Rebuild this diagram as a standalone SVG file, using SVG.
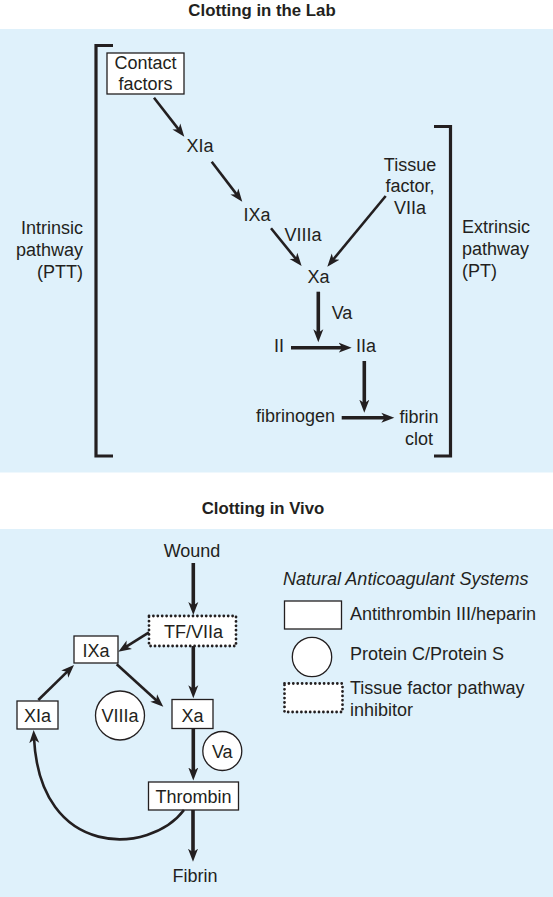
<svg xmlns="http://www.w3.org/2000/svg" width="553" height="897" viewBox="0 0 553 897">
<style>
text{font-family:"Liberation Sans",Arial,sans-serif;font-size:18px;fill:#231f20}
.t{font-weight:bold;font-size:16.8px}
.c{text-anchor:middle}
.r{text-anchor:end}
.bg{fill:#dff1fb}
.box{fill:#fff;stroke:#231f20;stroke-width:1.3}
.dot{fill:#fff;stroke:#231f20;stroke-width:2.8;stroke-dasharray:0 4.4;stroke-linecap:round}
.br{fill:none;stroke:#231f20;stroke-width:3.2}
.a{fill:none;stroke:#231f20;stroke-width:2.6;marker-end:url(#ah)}
.A{fill:none;stroke:#231f20;stroke-width:3.6;marker-end:url(#ah)}
</style>
<defs>
<marker id="ah" markerUnits="userSpaceOnUse" markerWidth="14" markerHeight="12" refX="5" refY="5" orient="auto" viewBox="0 0 14 10">
<path d="M0,0 L13,5 L0,10 L3.5,5 z" fill="#231f20"/>
</marker>
</defs>
<rect width="553" height="897" fill="#fff"/>
<rect class="bg" x="0" y="29" width="553" height="443.5"/>
<rect class="bg" x="0" y="529" width="553" height="368"/>
<text class="t c" x="262" y="15.5">Clotting in the Lab</text>
<text class="t c" x="263" y="513.5">Clotting in Vivo</text>

<g id="brackets">
<path class="br" d="M113,45.5 H96 V456 H113"/>
<path class="br" d="M434,126.5 H450.5 V456 H434"/>
</g>
<g id="intrinsic"><text class="r" x="83" y="234">Intrinsic</text><text class="r" x="83" y="256">pathway</text><text class="r" x="83" y="278">(PTT)</text></g>
<g id="extrinsic"><text x="462" y="233">Extrinsic</text><text x="462" y="255">pathway</text><text x="462" y="277">(PT)</text></g>
<g id="contact"><rect class="box" x="107" y="53" width="77" height="41"/><text class="c" x="145.5" y="69">Contact</text><text class="c" x="145.5" y="90">factors</text></g>
<g id="xia-top"><text class="c" x="200" y="152">XIa</text></g>
<g id="ixa-top"><text class="c" x="257" y="221">IXa</text></g>
<g id="viiia-top"><text class="c" x="303" y="241">VIIIa</text></g>
<g id="tissue"><text class="c" x="410" y="171">Tissue</text><text class="c" x="410" y="192">factor,</text><text class="c" x="410" y="214">VIIa</text></g>
<g id="xa-top"><text class="c" x="318.5" y="283">Xa</text></g>
<g id="va-top"><text class="c" x="342" y="319">Va</text></g>
<g id="ii"><text class="c" x="279" y="352">II</text></g>
<g id="iia"><text x="356" y="352">IIa</text></g>
<g id="fibrinogen"><text x="256" y="422">fibrinogen</text></g>
<g id="fibrinclot"><text class="c" x="419" y="423">fibrin</text><text class="c" x="419" y="445">clot</text></g>

<g id="wound"><text class="c" x="192" y="557">Wound</text></g>
<g id="tf"><rect class="dot" x="149" y="616" width="87" height="30"/><text class="c" x="193.5" y="637.5">TF/VIIa</text></g>
<g id="ixa"><rect class="box" x="74" y="636" width="44" height="27"/><text class="c" x="96" y="657">IXa</text></g>
<g id="xia"><rect class="box" x="17" y="701" width="41" height="28"/><text class="c" x="37.5" y="722">XIa</text></g>
<g id="viiia"><circle class="box" cx="120" cy="715.5" r="24.5"/><text class="c" x="120" y="722">VIIIa</text></g>
<g id="xa"><rect class="box" x="172" y="699.5" width="41" height="29"/><text class="c" x="192.5" y="721.5">Xa</text></g>
<g id="va"><circle class="box" cx="222.3" cy="751" r="19.5"/><text class="c" x="222.3" y="757.5">Va</text></g>
<g id="thrombin"><rect class="box" x="148.5" y="782" width="90" height="28"/><text class="c" x="193.5" y="803">Thrombin</text></g>
<g id="fibrin"><text class="c" x="195" y="882">Fibrin</text></g>

<g id="legend">
<text x="283" y="585" font-style="italic">Natural Anticoagulant Systems</text>
<rect class="box" x="284.5" y="601" width="57" height="28"/>
<text x="350" y="620">Antithrombin III/heparin</text>
<circle class="box" cx="312" cy="657" r="19.7"/>
<text x="350" y="660">Protein C/Protein S</text>
<rect class="dot" x="284.5" y="683.5" width="58" height="28.5"/>
<text x="350" y="693.5">Tissue factor pathway</text>
<text x="350" y="716">inhibitor</text>
</g>

<g id="connectors">
<path class="a" d="M154,97.7 L179.4,130.4"/>
<path class="a" d="M211.7,161.7 L237.4,195.4"/>
<path class="a" d="M271,228.3 L296.6,259.8"/>
<path class="a" d="M385.7,196 L332.4,260.5"/>
<path class="A" d="M318.3,291.7 V334.3"/>
<path class="A" d="M291,347.7 H343.7"/>
<path class="A" d="M364.3,361 V404.7"/>
<path class="A" d="M341.7,417.7 H386.3"/>
<path class="A" d="M193.3,563 V607"/>
<path class="a" d="M149,632.3 L125.1,647.4"/>
<path class="a" d="M38.3,700 L68.3,670.6"/>
<path class="a" d="M116.7,664.3 L157.4,701.3"/>
<path class="A" d="M193.3,646 V690.3"/>
<path class="A" d="M193.3,728.5 V772.5"/>
<path class="A" d="M193,810 V853.7"/>
<path class="a" d="M184,810 C150,855 40,860 34,738"/>
</g>
</svg>
